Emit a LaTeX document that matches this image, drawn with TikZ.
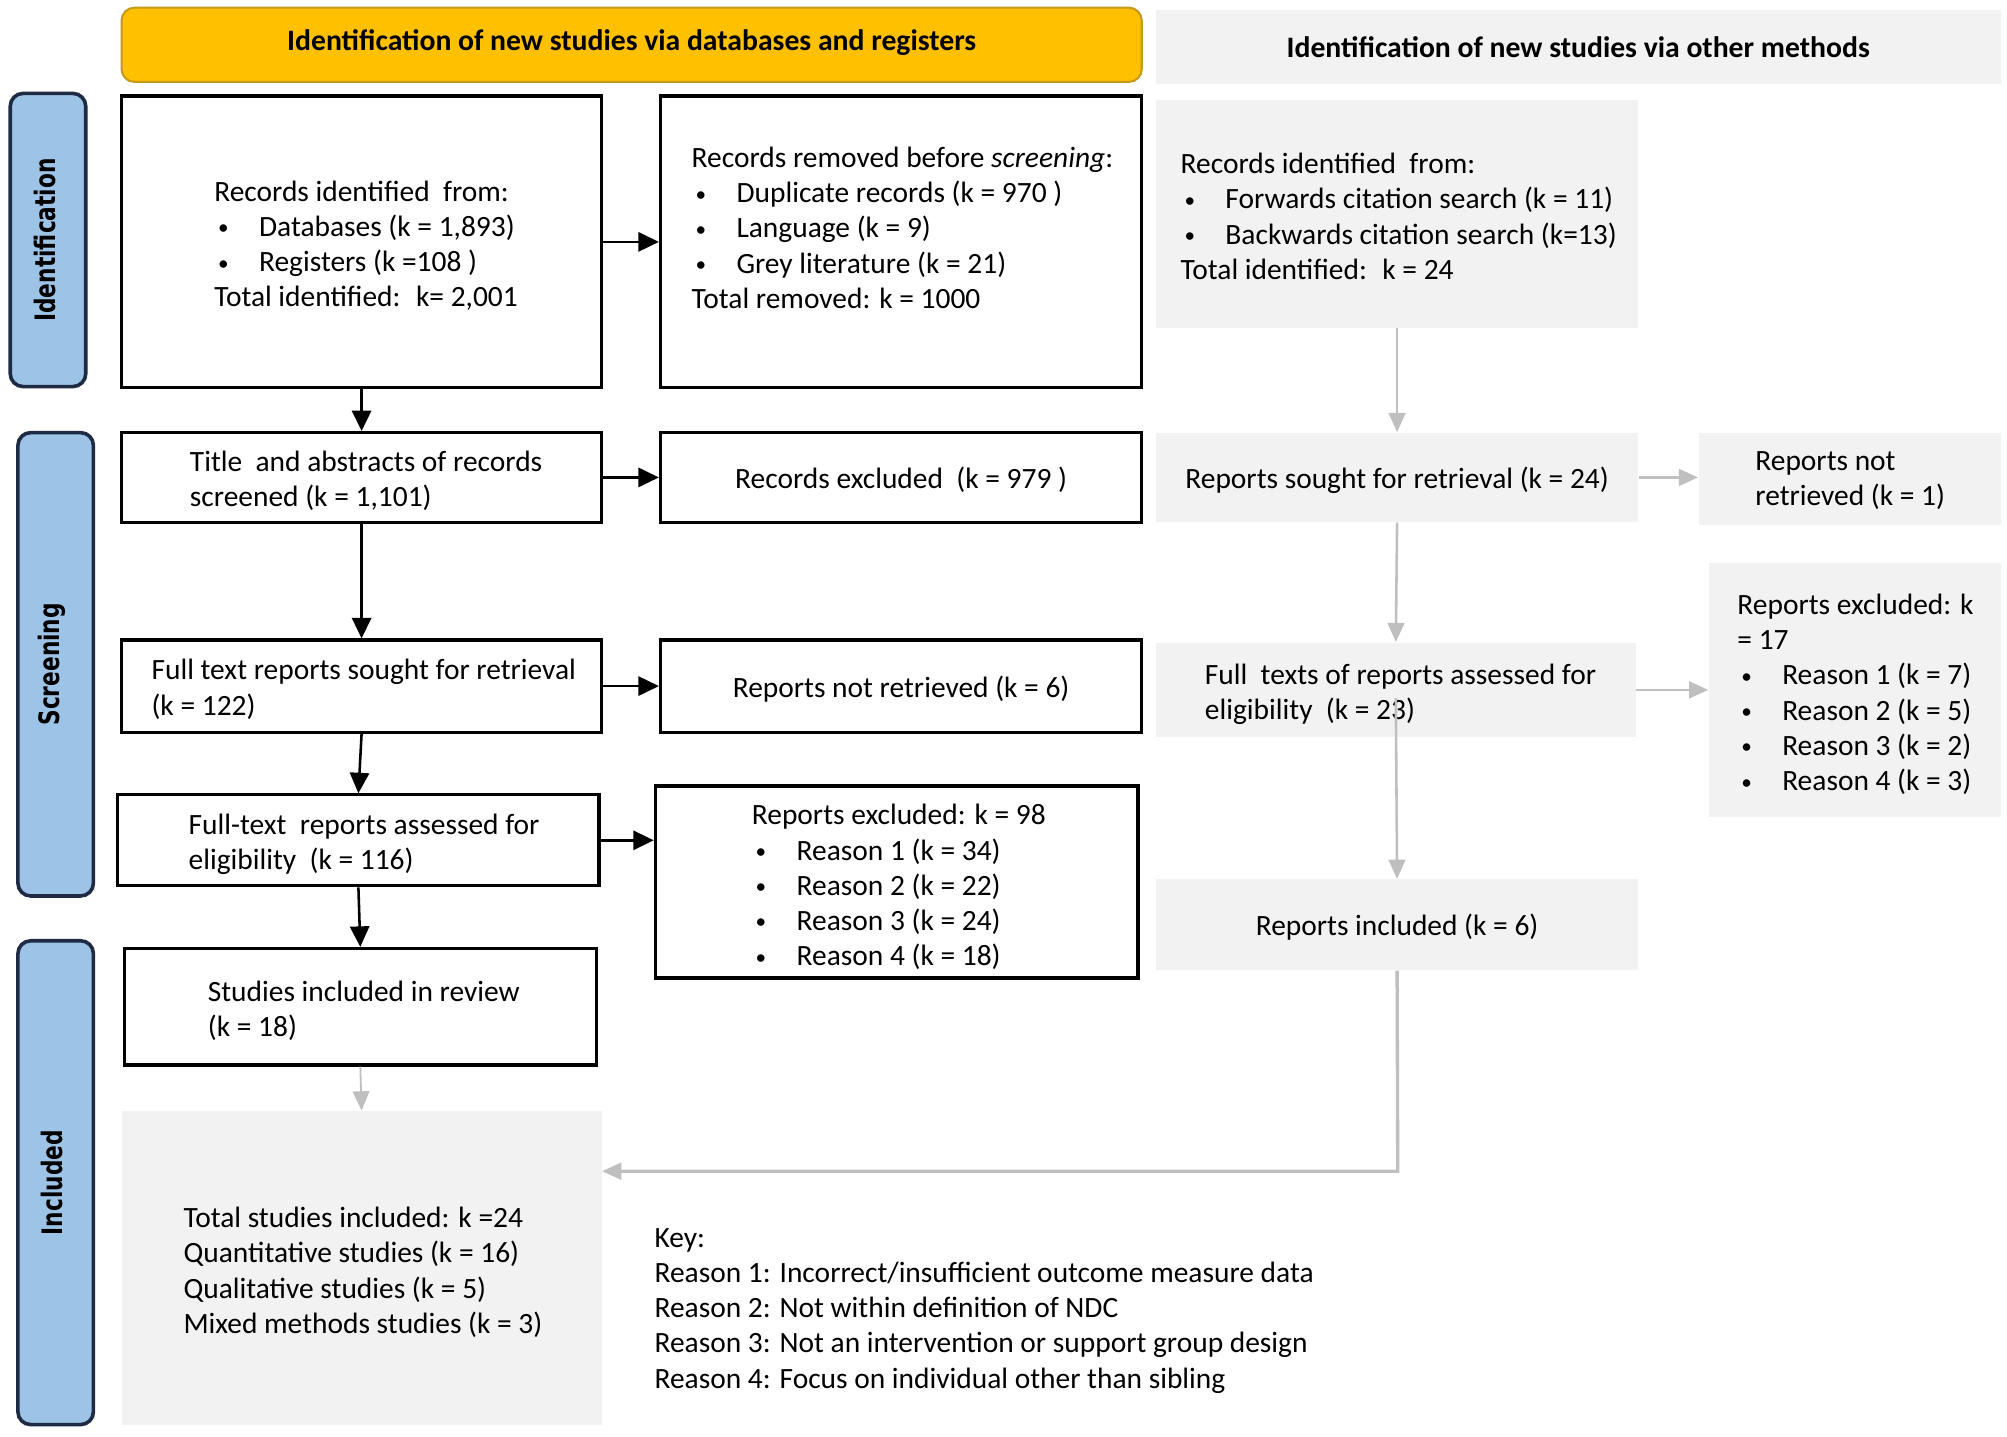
\documentclass[tikz,border=0pt]{standalone}
\usepackage{fontspec}
\usepackage{graphicx}
\setmainfont{Carlito}
\newfontfamily\labfont{DejaVu Sans}
\usetikzlibrary{arrows.meta,fit,calc}
\definecolor{yel}{HTML}{FFC000}
\definecolor{yelborder}{HTML}{C49A1C}
\definecolor{sideblue}{HTML}{9DC3E6}
\definecolor{sidedark}{HTML}{1F2A44}
\definecolor{boxgrey}{HTML}{F2F2F2}
\definecolor{arrowgrey}{HTML}{BFBFBF}
\newcommand{\bodyfont}{\fontsize{11.5}{13.75}\selectfont}
\newcommand{\hdrfont}{\fontsize{11.6}{13}\selectfont\bfseries}
\newcommand{\labsz}{\labfont\bfseries\fontsize{11}{13}\selectfont}
\newcommand{\bl}{\makebox[17.5pt][l]{\hspace{1.5pt}\raisebox{0.6pt}{\scalebox{0.72}{•}}}}
\tikzset{
  blk/.style={draw=black, line width=1.25pt, fill=white, inner sep=0pt},
  gry/.style={fill=boxgrey, draw=none, inner sep=0pt},
  side/.style={draw=sidedark, line width=1.4pt, fill=sideblue, rounded corners=5pt, inner sep=0pt},
  hdry/.style={draw=yelborder, line width=0.8pt, fill=yel, rounded corners=5pt, inner sep=0pt},
  hdrg/.style={fill=boxgrey, draw=none, inner sep=0pt},
  htxt/.style={inner sep=0pt, font=\hdrfont},
  txt/.style={anchor=west, align=left, inner sep=0pt, font=\bodyfont, yshift=-1pt},
  ctxt/.style={align=center, inner sep=0pt, font=\bodyfont, yshift=-1pt},
  sidelab/.style={rotate=90, inner sep=0pt},
  arr/.style={draw=black, line width=1pt, -{Triangle[length=8pt,width=7.5pt]}},
  garr/.style={draw=arrowgrey, line width=1pt, -{Triangle[length=7.5pt,width=6.5pt]}},
}
\begin{document}
\begin{tikzpicture}[x=0.5pt,y=-0.5pt]
\useasboundingbox (0,0) rectangle (1568,1122);
\fill[white] (0,0) rectangle (1568,1122);

% headers
\node[hdry, fit={(95,6)(892,64)}] (H1) {};
\node[hdrg, fit={(903,8)(1563,66)}] (H2) {};
\node[htxt] (H1t) at ($(H1.center)+(0,-2)$) {Identification of new studies via databases and registers};
\node[htxt] (H2t) at (H2.center) {Identification of new studies via other methods};

% side labels
\node[side, fit={(8,73)(67,302)}] (S1) {};
\node[side, fit={(14,338)(73,700)}] (S2) {};
\node[side, fit={(14,735)(73,1113)}] (S3) {};
\node[sidelab] (L1) at ($(S1.center)+(-2,0)$) {\labsz\scalebox{0.77}[1]{Identification}};
\node[sidelab] (L2) at ($(S2.center)+(-3,0)$) {\labsz\scalebox{0.77}[1]{Screening}};
\node[sidelab] (L3) at ($(S3.center)+(-3,0)$) {\labsz\scalebox{0.77}[1]{Included}};

% left column boxes
\node[blk, fit={(95,75)(470,303)}] (B1) {};
\node[blk, fit={(516,75)(892,303)}] (B2) {};
\node[blk, fit={(95,338)(470,408)}] (B3) {};
\node[blk, fit={(516,338)(892,408)}] (B4) {};
\node[blk, fit={(95,500)(470,572)}] (B5) {};
\node[blk, fit={(516,500)(892,572)}] (B6) {};
\node[blk, fit={(92,621)(468,692)}] (B7) {};
\node[blk, fit={(512,614)(889,764)}] (B8) {};
\node[blk, fit={(97,741)(466,832)}] (B9) {};
\node[gry, fit={(95,868)(470,1113)}] (B10) {};

% right column boxes
\node[gry, fit={(903,78)(1280,256)}] (R1) {};
\node[gry, fit={(903,338)(1280,408)}] (R2) {};
\node[gry, fit={(1327,338)(1563,410)}] (R3) {};
\node[gry, fit={(903,502)(1278,576)}] (R4) {};
\node[gry, fit={(1335,440)(1563,638)}] (R5) {};
\node[gry, fit={(903,687)(1280,758)}] (R6) {};

% texts
\node[txt] (T1) at (167,190) {Records identified~ from:\\ \bl Databases (k = 1,893)\\ \bl Registers (k =108 )\\ Total identified:~ k= 2,001};
\node[txt] (T2) at (540,176) {Records removed before \textit{screening}:\\ \bl Duplicate records (k = 970 )\\ \bl Language (k = 9)\\ \bl Grey literature (k = 21)\\ Total removed: k = 1000};
\node[txt] (T3) at (148,373.5) {Title~ and abstracts of records\\ screened (k = 1,101)};
\node[ctxt] (T4) at (B4.center) {Records excluded~ (k = 979 )};
\node[txt] (T5) at (118,536.5) {Full text reports sought for retrieval\\ (k = 122)};
\node[ctxt] (T6) at (B6.center) {Reports not retrieved (k = 6)};
\node[txt] (T7) at (147,657.5) {Full-text~ reports assessed for\\ eligibility~ (k = 116)};
\node[txt] (T8) at (587,691) {Reports excluded: k = 98\\ \bl Reason 1 (k = 34)\\ \bl Reason 2 (k = 22)\\ \bl Reason 3 (k = 24)\\ \bl Reason 4 (k = 18)};
\node[txt] (T9) at (162,787.5) {Studies included in review\\ (k = 18)};
\node[txt] (T10) at (143,992) {Total studies included: k =24\\ Quantitative studies (k = 16)\\ Qualitative studies (k = 5)\\ Mixed methods studies (k = 3)};
\node[txt] (K) at (511,1022) {Key:\\ Reason 1: Incorrect/insufficient outcome measure data\\ Reason 2: Not within definition of NDC\\ Reason 3: Not an intervention or support group design\\ Reason 4: Focus on individual other than sibling};
\node[txt] (TR1) at (922,167) {Records identified~ from:\\ \bl Forwards citation search (k = 11)\\ \bl Backwards citation search (k=13)\\ Total identified:~ k = 24};
\node[ctxt] (TR2) at (R2.center) {Reports sought for retrieval (k = 24)};
\node[txt] (TR3) at (1371,373.5) {Reports not\\ retrieved (k = 1)};
\node[txt] (TR4) at (941,540.5) {Full~ texts of reports assessed for\\ eligibility~ (k = 23)};
\node[txt] (TR5) at (1357,540.5) {Reports excluded: k\\ = 17\\ \bl Reason 1 (k = 7)\\ \bl Reason 2 (k = 5)\\ \bl Reason 3 (k = 2)\\ \bl Reason 4 (k = 3)};
\node[ctxt] (TR6) at (R6.center) {Reports included (k = 6)};

% black connectors
\draw[arr] (B1.south) -- (B3.north);
\draw[arr] (B1.east) -- (B1.east -| B2.west);
\draw[arr] (B3.east) -- (B3.east -| B4.west);
\draw[arr] (B3.south) -- (B5.north);
\draw[arr] (B5.east) -- (B5.east -| B6.west);
\draw[arr] (B5.south) -- (B7.north);
\draw[arr] (B7.east) -- (B7.east -| B8.west);
\draw[arr] (B7.south) -- (B9.north);
\draw[garr, line width=0.7pt] (B9.south) -- (B10.north);

% grey connectors
\draw[garr] (R1.south) -- (R2.north);
\draw[garr] (R2.east) -- (R2.east -| R3.west);
\draw[garr] (R2.south) -- (R4.north);
\draw[garr] (R4.east) -- (R4.east -| R5.west);
\coordinate (R4in) at ($(R4.south)+(0,-31)$);
\draw[garr] (R4in) -- (R6.north);
\coordinate (J) at (1092,915);
\draw[garr, line width=1.3pt] (R6.south) -- (J) -- (J -| B10.east);
\end{tikzpicture}
\end{document}
